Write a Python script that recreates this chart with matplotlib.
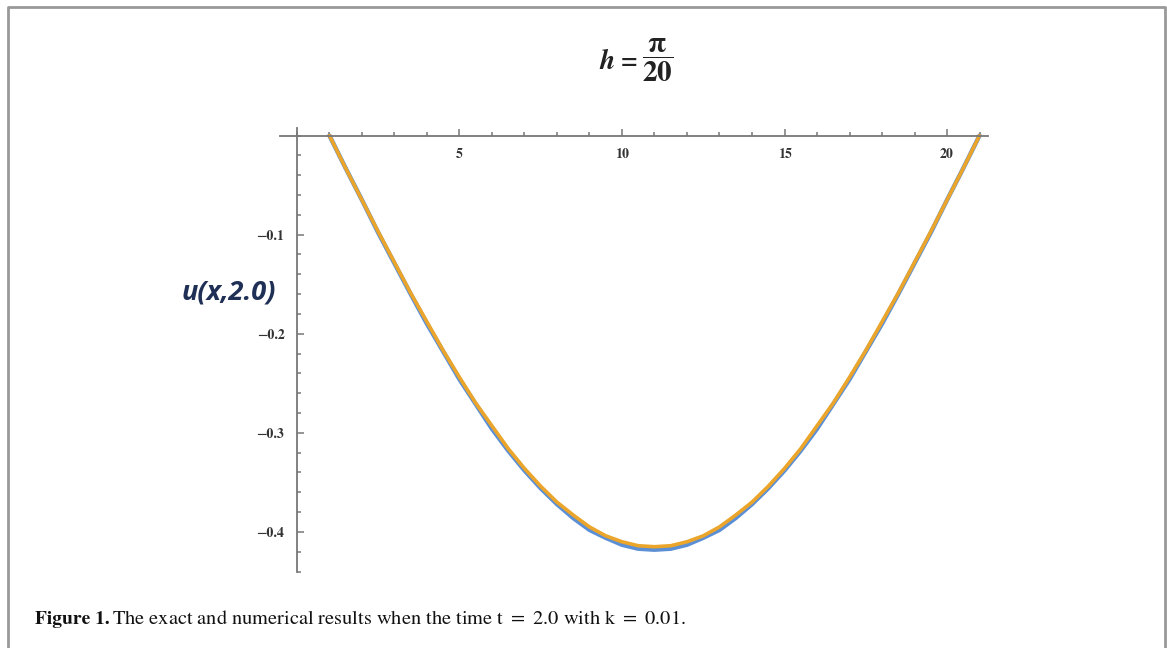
import numpy as np
import matplotlib.pyplot as plt
from matplotlib.ticker import MultipleLocator, FuncFormatter

# grid points (step 0.5) and the two solutions
x = np.arange(1, 21.5, 0.5)
u_exact = [0.000, -0.033, -0.065, -0.098, -0.129, -0.160, -0.190, -0.218, -0.246, -0.271, -0.296,
           -0.318, -0.338, -0.356, -0.372, -0.386, -0.398, -0.406, -0.413, -0.417, -0.418,
           -0.417, -0.413, -0.406, -0.398, -0.386, -0.372, -0.356, -0.338, -0.318, -0.296,
           -0.271, -0.246, -0.218, -0.190, -0.160, -0.129, -0.098, -0.065, -0.033, 0.000]
u_numer = [0.000, -0.033, -0.065, -0.097, -0.128, -0.159, -0.188, -0.217, -0.244, -0.270, -0.293,
           -0.316, -0.336, -0.354, -0.370, -0.383, -0.395, -0.404, -0.410, -0.414, -0.415,
           -0.414, -0.410, -0.404, -0.395, -0.383, -0.370, -0.354, -0.336, -0.316, -0.293,
           -0.270, -0.244, -0.217, -0.188, -0.159, -0.128, -0.097, -0.065, -0.033, 0.000]
x_ticks = [5, 10, 15, 20]
y_ticks = [-0.1, -0.2, -0.3, -0.4]

plt.rcParams['mathtext.fontset'] = 'stix'

fig = plt.figure(figsize=(11.67, 6.48), dpi=100)

# outer frame of the figure panel (no bottom edge)
fig.add_artist(plt.Line2D([8 / 1167, 8 / 1167, 1165 / 1167, 1165 / 1167],
                          [0, 1 - 7 / 648, 1 - 7 / 648, 0],
                          transform=fig.transFigure, color='#999999', lw=2))

ax = fig.add_axes([280 / 1167, 76 / 648, 708 / 1167, 444 / 648])
ax.plot(x, u_exact, color='#5b8fd6', lw=3.2, solid_capstyle='round')
ax.plot(x, u_numer, color='#eaa52a', lw=2.6, solid_capstyle='round')

ax.set_xlim(-0.52, 21.26)
ax.set_ylim(-0.4405, 0.0076)

for s in ['top', 'right']:
    ax.spines[s].set_visible(False)
ax.spines['left'].set_position(('data', 0))
ax.spines['bottom'].set_position(('data', 0))
for s in ['left', 'bottom']:
    ax.spines[s].set_color('#777777')
    ax.spines[s].set_linewidth(1.3)

ax.set_xticks(x_ticks)
ax.set_yticks(y_ticks)
ax.xaxis.set_minor_locator(MultipleLocator(1))
ax.yaxis.set_minor_locator(MultipleLocator(0.02))
ax.yaxis.set_major_formatter(FuncFormatter(lambda v, p: '\u2212' + '%.1f' % abs(v)))
ax.tick_params(which='both', direction='in', color='#777777', width=1.1,
               labelsize=10, labelcolor='#333333')
ax.tick_params(which='major', length=5)
ax.tick_params(which='minor', length=3)
ax.tick_params(axis='x', which='major', pad=9)
ax.tick_params(axis='y', which='major', pad=9)
for lab in ax.get_xticklabels() + ax.get_yticklabels():
    lab.set_family('STIXGeneral')
    lab.set_weight('bold')

fig.text(229 / 1167, 1 - 292 / 648, 'u(x,2.0)', ha='center', va='center',
         fontsize=19.5, fontweight='bold', fontstyle='italic', family='Open Sans',
         color='#1f2f55')

# title h = pi/20
fig.text(645 / 1167, 1 - 62 / 648, 'h = ', ha='right', va='center',
         fontsize=20, fontweight='bold', fontstyle='italic', family='STIXGeneral',
         color='#222222')
fig.text(642 / 1167, 1 - 60 / 648, r'$\dfrac{\mathbf{\pi}}{\mathbf{20}}$',
         ha='left', va='center', fontsize=21, color='#222222')

fig.text(35 / 1167, 1 - 619 / 648, 'Figure 1.', ha='left', va='center',
         fontsize=14, fontweight='bold', family='STIXGeneral', color='#111111')
fig.text(112 / 1167, 1 - 619 / 648,
         'The exact and numerical results when the time t $=$ 2.0 with k $=$ 0.01.',
         ha='left', va='center', fontsize=14.7, family='STIXGeneral', color='#111111')

fig.savefig('out.png', dpi=100)
